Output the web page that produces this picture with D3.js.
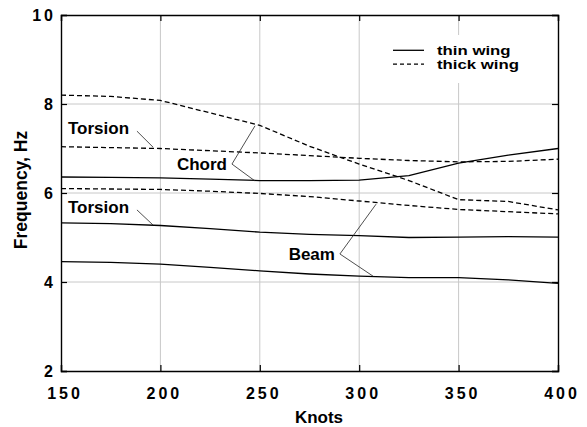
<!DOCTYPE html>
<html><head><meta charset="utf-8">
<script src="https://cdn.jsdelivr.net/npm/d3@7"></script>
<style>
html,body{margin:0;padding:0;background:#fff;}
text{font-family:"Liberation Sans",Arial,Helvetica,sans-serif;font-weight:bold;fill:#000;}
</style></head>
<body>
<svg id="c" width="587" height="427"></svg>
<script>
const knots = [150,175,200,225,250,275,300,325,350,375,400];
const thinChord   = [6.36,6.35,6.34,6.31,6.28,6.28,6.29,6.39,6.67,6.85,7.00];
const thinTorsion = [5.33,5.31,5.27,5.20,5.12,5.07,5.04,5.00,5.01,5.02,5.01];
const thinBeam    = [4.46,4.44,4.40,4.33,4.25,4.18,4.13,4.10,4.10,4.05,3.97];
const thickChord  = [8.20,8.17,8.08,7.80,7.52,7.05,6.65,6.28,5.85,5.81,5.62];
const thickTorsion= [7.04,7.02,7.00,6.95,6.90,6.84,6.78,6.73,6.70,6.71,6.76];
const thickBeam   = [6.10,6.09,6.08,6.04,5.99,5.92,5.82,5.72,5.63,5.58,5.53];
const xTicks = [150,200,250,300,350,400];
const yTicks = [2,4,6,8,10];
const xGrid = [200,250,300,350];
const yGrid = [4,6,8];
const legendItems = [{label:"thin wing",dash:null},{label:"thick wing",dash:"4,3"}];
// annotations in data units: text anchor point and leader line points
const annotations = [
  {text:"Torsion", tx:153.5, ty:7.46, anchor:"start", legs:[[[188.2,7.39],[196.3,7.03]]]},
  {text:"Torsion", tx:153.5, ty:5.69, anchor:"start", legs:[[[188.2,5.62],[196.3,5.28]]]},
  {text:"Chord", tx:233.5, ty:6.65, anchor:"end", legs:[[[236,6.65],[247.6,7.51]],[[236,6.65],[247.6,6.27]]]},
  {text:"Beam", tx:287.8, ty:4.63, anchor:"end", legs:[[[290.3,4.63],[308.5,5.75]],[[290.3,4.63],[307,4.13]]]}
];

const svg = d3.select("#c");
const x = d3.scaleLinear().domain([150,400]).range([61,558]);
const y = d3.scaleLinear().domain([2,10]).range([371,15]);

// grid
svg.append("g").selectAll("line").data(xGrid).join("line")
  .attr("x1",d=>x(d)).attr("x2",d=>x(d)).attr("y1",y(10)).attr("y2",y(2))
  .attr("stroke","#c8c8c8").attr("stroke-width",1);
svg.append("g").selectAll("line").data(yGrid).join("line")
  .attr("y1",d=>y(d)).attr("y2",d=>y(d)).attr("x1",x(150)).attr("x2",x(400))
  .attr("stroke","#c8c8c8").attr("stroke-width",1);

// axes with inward ticks
const axB = d3.axisBottom(x).tickValues(xTicks).tickSize(-6).tickFormat("");
const axT = d3.axisTop(x).tickValues(xTicks).tickSize(-6).tickFormat("");
const axL = d3.axisLeft(y).tickValues(yTicks).tickSize(-6).tickFormat("");
const axR = d3.axisRight(y).tickValues(yTicks).tickSize(-6).tickFormat("");
function styleAx(g){g.selectAll("path").attr("stroke","#000").attr("stroke-width",1.4);
  g.selectAll("line").attr("stroke","#000").attr("stroke-width",1.2);}
svg.append("g").attr("transform",`translate(0,${y(2)})`).call(axB).call(styleAx);
svg.append("g").attr("transform",`translate(0,${y(10)})`).call(axT).call(styleAx);
svg.append("g").attr("transform",`translate(${x(150)},0)`).call(axL).call(styleAx);
svg.append("g").attr("transform",`translate(${x(400)},0)`).call(axR).call(styleAx);

// tick labels
svg.append("g").selectAll("text").data(xTicks).join("text")
  .attr("x",d=>x(d)+4).attr("y",399).attr("text-anchor","middle")
  .style("font-size","16px").style("letter-spacing","3px").text(d=>d);
svg.append("g").selectAll("text").data(yTicks).join("text")
  .attr("x",x(150)-5).attr("y",d=>y(d)).attr("dy","0.36em").attr("text-anchor","end")
  .style("font-size","16px").style("letter-spacing","3px").text(d=>d);

// axis titles
svg.append("text").attr("x",319).attr("y",423).attr("text-anchor","middle")
  .style("font-size","17px").text("Knots");
svg.append("text").attr("transform","translate(27,190) rotate(-90)").attr("text-anchor","middle")
  .style("font-size","17.5px").text("Frequency, Hz");

// series
const line = d3.line().x((d,i)=>x(knots[i])).y(d=>y(d));
const series = [
  {v:thinChord,dash:null},{v:thinTorsion,dash:null},{v:thinBeam,dash:null},
  {v:thickChord,dash:"5,3"},{v:thickTorsion,dash:"5,3"},{v:thickBeam,dash:"5,3"}
];
svg.append("g").selectAll("path").data(series).join("path")
  .attr("d",d=>line(d.v)).attr("fill","none").attr("stroke","#000")
  .attr("stroke-width",1.3).attr("stroke-dasharray",d=>d.dash);

// annotations
const ag = svg.append("g");
annotations.forEach(a=>{
  ag.append("text").attr("x",x(a.tx)).attr("y",y(a.ty)).attr("dy","0.36em")
    .attr("text-anchor",a.anchor).style("font-size","17px").text(a.text);
  a.legs.forEach(l=>{
    ag.append("line").attr("x1",x(l[0][0])).attr("y1",y(l[0][1]))
      .attr("x2",x(l[1][0])).attr("y2",y(l[1][1]))
      .attr("stroke","#222").attr("stroke-width",0.8);
  });
});

// legend
const lg = svg.append("g");
lg.append("rect").attr("x",386).attr("y",35).attr("width",146).attr("height",48).attr("fill","#fff");
legendItems.forEach((it,i)=>{
  const yy = 50.3 + i*13.9;
  lg.append("line").attr("x1",393).attr("x2",424).attr("y1",yy).attr("y2",yy)
    .attr("stroke","#000").attr("stroke-width",1.3).attr("stroke-dasharray",it.dash);
  lg.append("text").attr("transform",`translate(437,${yy}) scale(1.4,1)`).attr("dy","0.36em")
    .style("font-size","12px").text(it.label);
});
</script>
</body></html>
